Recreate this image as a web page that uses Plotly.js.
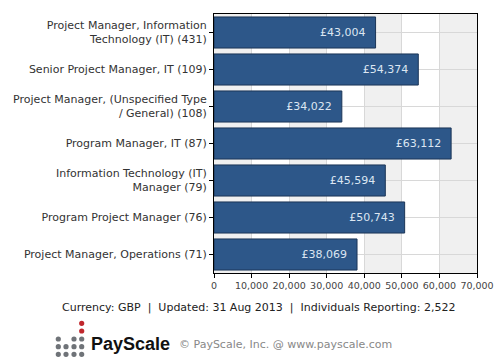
<!DOCTYPE html>
<html><head><meta charset="utf-8">
<script src="https://cdn.plot.ly/plotly-3.0.1.min.js"></script>
<style>html,body{margin:0;padding:0;background:#fff}#c{width:500px;height:360px}</style>
</head><body><div id="c"></div>
<script>
const categories = [
  "Project Manager, Information<br>Technology (IT) (431)",
  "Senior Project Manager, IT (109)",
  "Project Manager, (Unspecified Type<br>/ General) (108)",
  "Program Manager, IT (87)",
  "Information Technology (IT)<br>Manager (79)",
  "Program Project Manager (76)",
  "Project Manager, Operations (71)"
];
const salaries = [43004, 54374, 34022, 63112, 45594, 50743, 38069];
const barLabels = ["£43,004","£54,374","£34,022","£63,112","£45,594","£50,743","£38,069"];
const tickVals = [0,10000,20000,30000,40000,50000,60000,70000];
const tickText = ["0","10,000","20,000","30,000","40,000","50,000","60,000","70,000"];

const F = "DejaVu Sans, Verdana, sans-serif";
const shapes = [];
// alternating column bands
for (let i = 0; i < 7; i += 2) {
  shapes.push({type:'rect', xref:'x', yref:'paper', x0:i*10000, x1:(i+1)*10000, y0:0, y1:1,
    fillcolor:'#f0f0f0', line:{width:0}, layer:'below'});
}
// logo dots
const dots = [];
const cols = [58.3, 66, 74, 81.7], rows = [339, 346.7, 354.3];
rows.forEach((ry, r) => cols.forEach((cx, c) => {
  if (r === 0 && c === 1) return;
  dots.push([cx, ry, '#6f7378']);
}));
dots.push([81.7, 323.3, '#c0272d']);
dots.push([81.7, 331, '#c0272d']);
dots.forEach(d => shapes.push({type:'circle', xref:'paper', yref:'paper',
  x0:(d[0]-2.6-214)/263, x1:(d[0]+2.6-214)/263,
  y0:(273-(d[1]+2.6))/259, y1:(273-(d[1]-2.6))/259,
  fillcolor:d[2], line:{width:0}}));

const data = [{
  type:'bar', orientation:'h', y:categories, x:salaries,
  text:barLabels, texttemplate:'%{text}\u00a0\u00a0', textposition:'inside', insidetextanchor:'end',
  textfont:{family:F, size:11, color:'#dce6f2'},
  marker:{color:'#2d5789', line:{color:'#1b3557', width:1}},
  hoverinfo:'none'
}];
const layout = {
  width:500, height:360,
  margin:{l:214, r:23, t:14, b:87},
  paper_bgcolor:'#fff', plot_bgcolor:'#fff',
  bargap:0.16, showlegend:false,
  font:{family:F, size:11, color:'#333'},
  xaxis:{range:[0,70000], tickvals:tickVals, ticktext:tickText, tickangle:0, showgrid:true, gridcolor:'#d8d8d8',
    zeroline:false, showline:true, linecolor:'#000', linewidth:1, mirror:true,
    ticks:'outside', ticklen:4, tickcolor:'#000', tickfont:{family:F, size:9.5, color:'#444'}},
  yaxis:{autorange:'reversed', showgrid:true, gridcolor:'#d8d8d8', showline:true, linecolor:'#000',
    linewidth:1, mirror:true, ticks:'outside', ticklen:4, tickcolor:'#000',
    tickfont:{family:F, size:11, color:'#333'}},
  shapes:shapes,
  annotations:[
    {xref:'paper', yref:'paper', x:(259-214)/263, y:(273-307)/259, text:"Currency: GBP  |  Updated: 31 Aug 2013  |  Individuals Reporting: 2,522",
     showarrow:false, font:{family:F, size:11, color:'#222'}, xanchor:'center', yanchor:'middle'},
    {xref:'paper', yref:'paper', x:(89-214)/263, y:(273-344)/259, text:"<b>PayScale</b>",
     showarrow:false, font:{family:"Liberation Sans, Arial, sans-serif", size:18, color:'#111'}, xanchor:'left', yanchor:'middle'},
    {xref:'paper', yref:'paper', x:(177-214)/263, y:(273-345)/259, text:"© PayScale, Inc. @ www.payscale.com",
     showarrow:false, font:{family:F, size:11, color:'#888'}, xanchor:'left', yanchor:'middle'}
  ]
};
Plotly.newPlot('c', data, layout, {displayModeBar:false, staticPlot:true});
</script></body></html>
